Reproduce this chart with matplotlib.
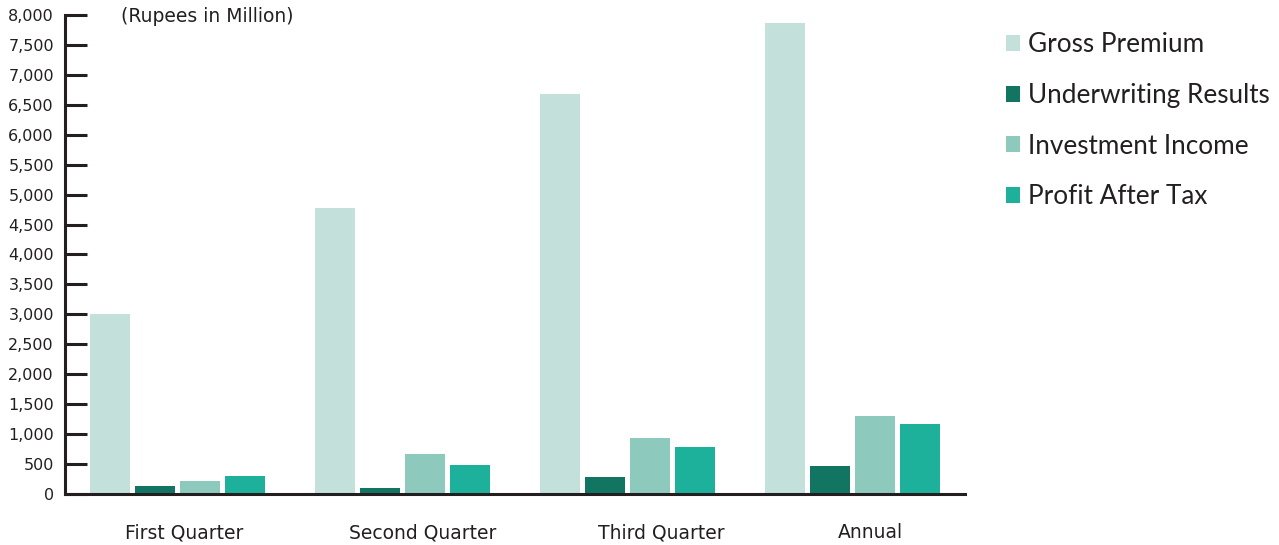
import matplotlib
matplotlib.use("Agg")
import matplotlib.pyplot as plt
import numpy as np

categories = ["First Quarter", "Second Quarter", "Third Quarter", "Annual"]
series_names = ["Gross Premium", "Underwriting Results", "Investment Income", "Profit After Tax"]
gross_premium = [3000, 4775, 6680, 7860]
underwriting_results = [140, 100, 285, 470]
investment_income = [220, 670, 935, 1300]
profit_after_tax = [300, 485, 785, 1170]
y_ticks = list(range(0, 8001, 500))
colors = ["#c4e0da", "#117562", "#8dcabd", "#1db09a"]

series = [gross_premium, underwriting_results, investment_income, profit_after_tax]

fig = plt.figure(figsize=(12.79, 5.45), dpi=100)
ax = fig.add_axes([65/1279, 1-494/545, 900/1279, 479/545])

x = np.arange(len(categories))
width = 0.182
pitch = 0.2
for i, (vals, name, c) in enumerate(zip(series, series_names, colors)):
    ax.bar(x + (i - 1.5) * pitch, vals, width=width, color=c, label=name, zorder=2)

ax.set_xlim(-0.5, 3.5)
ax.set_ylim(0, 8000)
ax.set_yticks(y_ticks)
ax.set_yticklabels([f"{v:,}" for v in y_ticks], fontsize=11.5, color="#231f20")
label_shift = np.array([0.03, 0.09, 0.15, 0.08])
ax.set_xticks(x + label_shift)
ax.set_xticklabels(categories, fontsize=13.5, color="#231f20")

for s in ["top", "right"]:
    ax.spines[s].set_visible(False)
for s in ["left", "bottom"]:
    ax.spines[s].set_linewidth(2.2)
    ax.spines[s].set_color("#231f20")
ax.spines["bottom"].set_zorder(3)

ax.tick_params(axis="y", direction="in", length=16, width=2.2, color="#231f20", pad=8)
ax.tick_params(axis="x", length=0, pad=21)

fig.text(121/1279, 1-16/545, "(Rupees in Million)", fontsize=13.5, color="#231f20", va="center", ha="left")

leg = fig.legend(loc="upper left", bbox_to_anchor=(982/1279, 1-9/545), frameon=False,
                 handlelength=0.57, handleheight=0.57, handletextpad=0.3,
                 labelspacing=0.98, prop={"family": "Lato", "size": 18.8})
for t in leg.get_texts():
    t.set_color("#231f20")

fig.savefig("out.png", dpi=100)
